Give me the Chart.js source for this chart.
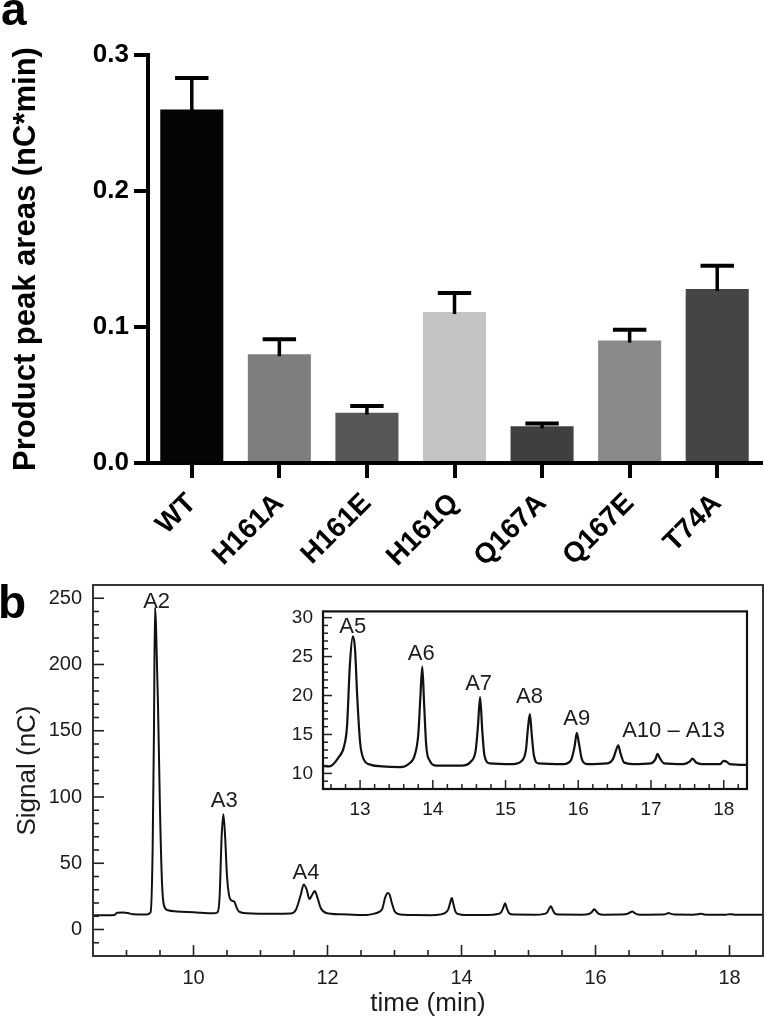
<!DOCTYPE html>
<html><head><meta charset="utf-8">
<script src="https://cdn.jsdelivr.net/npm/chart.js@4.4.0/dist/chart.umd.min.js"></script>
<style>
html,body{margin:0;padding:0;background:#fff;}
body{width:765px;height:1020px;position:relative;overflow:hidden;font-family:"Liberation Sans",Arial,sans-serif;}
.wrap{position:absolute;}
.panel{position:absolute;font-weight:bold;font-size:46px;line-height:46px;color:#000;font-family:"Liberation Sans",Arial,sans-serif;}
</style></head><body>
<div class="wrap" style="left:0;top:0;width:765px;height:580px"><canvas id="ca" width="765" height="580"></canvas></div>
<div class="wrap" style="left:0;top:560px;width:765px;height:460px"><canvas id="cb" width="765" height="460"></canvas></div>
<div class="wrap" style="left:270px;top:590px;width:490px;height:240px"><canvas id="cc" width="490" height="240"></canvas></div>
<div class="panel" style="left:1px;top:-14px">a</div>
<div class="panel" style="left:-2px;top:579px">b</div>
<script>
// ---------- Panel a data ----------
const categories = ['WT','H161A','H161E','H161Q','Q167A','Q167E','T74A'];
const peakAreas = [0.260, 0.080, 0.037, 0.111, 0.027, 0.090, 0.128];
const peakAreaErrors = [0.023, 0.011, 0.005, 0.014, 0.002, 0.008, 0.017];
const barColors = ['#050505','#7e7e7e','#575757','#c3c3c3','#3f3f3f','#8a8a8a','#454545'];
const yTicksA = [0, 0.1, 0.2, 0.3];

// ---------- Panel b data (chromatogram) ----------
const timeMin = [
 8.50, 8.70, 8.82, 8.86, 8.95, 9.02, 9.10, 9.30, 9.36, 9.39, 9.41, 9.425, 9.44, 9.47, 9.50, 9.53, 9.56, 9.62, 9.75, 10.00,
 10.30, 10.36, 10.39, 10.42, 10.445, 10.47, 10.50, 10.53, 10.56, 10.61, 10.64, 10.68, 10.80, 11.20, 11.45, 11.53, 11.60, 11.645, 11.69, 11.73,
 11.78, 11.81, 11.85, 11.90, 11.98, 12.20, 12.47, 12.58, 12.70, 12.78, 12.82, 12.86, 12.90, 12.93, 12.96, 13.00, 13.05, 13.15, 13.30, 13.55,
 13.68, 13.75, 13.80, 13.83, 13.855, 13.88, 13.91, 13.96, 14.05, 14.40, 14.52, 14.59, 14.62, 14.65, 14.68, 14.71, 14.78, 15.10, 15.22, 15.28,
 15.31, 15.335, 15.36, 15.39, 15.45, 15.80, 15.90, 15.95, 15.98, 16.01, 16.05, 16.12, 16.40, 16.48, 16.52, 16.55, 16.58, 16.63, 16.75, 17.00,
 17.06, 17.09, 17.12, 17.18, 17.45, 17.53, 17.57, 17.62, 17.70, 17.95, 18.00, 18.04, 18.08, 18.30, 18.50
];
const signalNC = [
 10.8, 10.8, 11.0, 12.6, 12.8, 12.4, 11.5, 11.3, 13.0, 60, 150, 243, 230, 170, 90, 35, 18, 14.5, 13.6, 13.0,
 12.2, 13.0, 25, 70, 87, 72, 40, 26, 22, 21, 17, 13.5, 12.2, 11.8, 12.0, 15, 26, 34, 30, 23,
 27, 29, 24, 16, 12.5, 11.5, 11.0, 10.9, 12.0, 13.5, 16, 24, 27.6, 26, 20, 14, 11.8, 11.1, 10.9, 10.8,
 11.3, 12.3, 15, 20, 23.7, 19, 13.5, 11.6, 11.0, 11.0, 11.5, 13, 16, 19.8, 15.5, 12.3, 11.3, 11.2, 11.6, 13,
 16, 17.6, 15, 12.3, 11.3, 11.2, 11.7, 13.5, 15.2, 13.8, 11.8, 11.2, 11.3, 11.9, 13.0, 13.6, 12.6, 11.4, 11.2, 11.3,
 11.8, 12.5, 12.0, 11.3, 11.2, 11.5, 11.9, 11.4, 11.2, 11.2, 11.6, 11.5, 11.2, 11.1, 11.1
];
const xTicksMain = [10, 12, 14, 16, 18];
const yTicksMain = [0, 50, 100, 150, 200, 250];
const xTicksInset = [13, 14, 15, 16, 17, 18];
const yTicksInset = [10, 15, 20, 25, 30];

const mainPeakNames = ['A2', 'A3', 'A4'];
const mainPeakTime = [9.45, 10.46, 11.68];
const mainPeakSignal = [247, 97, 43];
const insetPeakNames = ['A5', 'A6', 'A7', 'A8', 'A9', 'A10 \u2013 A13'];
const insetPeakTime = [12.9, 13.84, 14.63, 15.33, 15.98, 17.31];
const insetPeakSignal = [28.8, 25.4, 21.5, 19.8, 17.0, 15.4];

const FONT = '"Liberation Sans", Arial, Helvetica, sans-serif';
const TXT = '#1c1c1c';

// ---------- plugins ----------
const errorBarPlugin = {
  id: 'errbars',
  afterDatasetsDraw(chart) {
    const meta = chart.getDatasetMeta(0), ys = chart.scales.y, ctx = chart.ctx;
    ctx.save(); ctx.strokeStyle = '#000'; ctx.lineCap = 'butt';
    meta.data.forEach((bar, i) => {
      const top = ys.getPixelForValue(peakAreas[i]);
      const yc = ys.getPixelForValue(peakAreas[i] + peakAreaErrors[i]);
      ctx.lineWidth = 3.5;
      ctx.beginPath(); ctx.moveTo(bar.x, top + 2); ctx.lineTo(bar.x, yc); ctx.stroke();
      const hw = bar.width * 0.265;
      ctx.lineWidth = 4;
      ctx.beginPath(); ctx.moveTo(bar.x - hw, yc); ctx.lineTo(bar.x + hw, yc); ctx.stroke();
    });
    ctx.restore();
  }
};

function frameTicks(cfg) {
  return {
    id: 'frameTicks',
    beforeDatasetsDraw(chart) {
      if (!cfg.fill) return;
      const a = chart.chartArea, ctx = chart.ctx;
      ctx.save(); ctx.fillStyle = '#fff';
      ctx.fillRect(a.left, a.top, a.right - a.left, a.bottom - a.top);
      ctx.restore();
    },
    afterDraw(chart) {
      const a = chart.chartArea, ctx = chart.ctx, xs = chart.scales.x, ys = chart.scales.y;
      ctx.save();
      ctx.strokeStyle = cfg.color; ctx.lineWidth = cfg.tickWidth;
      const isMul = (v, s) => Math.abs(v / s - Math.round(v / s)) < 1e-6;
      let n0 = Math.ceil(xs.min / cfg.xMinor - 1e-9), n1 = Math.floor(xs.max / cfg.xMinor + 1e-9);
      for (let n = n0; n <= n1; n++) {
        const v = n * cfg.xMinor, px = xs.getPixelForValue(v);
        const len = isMul(v, cfg.xMajor) ? cfg.majorLen : cfg.minorLen;
        ctx.beginPath(); ctx.moveTo(px, a.bottom); ctx.lineTo(px, a.bottom - len); ctx.stroke();
      }
      n0 = Math.ceil(ys.min / cfg.yMinor - 1e-9); n1 = Math.floor(ys.max / cfg.yMinor + 1e-9);
      for (let n = n0; n <= n1; n++) {
        const v = n * cfg.yMinor, py = ys.getPixelForValue(v);
        const len = isMul(v, cfg.yMajor) ? cfg.majorLen : cfg.minorLen;
        ctx.beginPath(); ctx.moveTo(a.left, py); ctx.lineTo(a.left + len, py); ctx.stroke();
      }
      ctx.lineWidth = cfg.frameWidth; ctx.strokeStyle = cfg.frameColor;
      ctx.strokeRect(a.left, a.top, a.right - a.left, a.bottom - a.top);
      ctx.restore();
    }
  };
}

function peakLabels(names, times, sigs) {
  return {
    id: 'peakLabels',
    afterDatasetsDraw(chart) {
      const ctx = chart.ctx, xs = chart.scales.x, ys = chart.scales.y;
      ctx.save();
      ctx.fillStyle = TXT; ctx.font = '22px ' + FONT;
      ctx.textAlign = 'center'; ctx.textBaseline = 'middle';
      names.forEach((n, i) => ctx.fillText(n, xs.getPixelForValue(times[i]), ys.getPixelForValue(sigs[i])));
      ctx.restore();
    }
  };
}

// ---------- Panel a ----------
new Chart(document.getElementById('ca'), {
  type: 'bar',
  data: { labels: categories, datasets: [{ data: peakAreas, backgroundColor: barColors, borderWidth: 0, barPercentage: 0.72, categoryPercentage: 1 }] },
  options: {
    responsive: false, animation: false, devicePixelRatio: 1,
    layout: { padding: { left: 0, right: 4, top: 55, bottom: 0 } },
    plugins: { legend: { display: false }, tooltip: { enabled: false } },
    scales: {
      x: {
        offset: true,
        grid: { display: true, offset: false, drawOnChartArea: false, drawTicks: true, tickLength: 15, lineWidth: 4, color: '#000' },
        border: { display: true, width: 4, color: '#000' },
        ticks: { autoSkip: false, maxRotation: 45, minRotation: 45, padding: 9, color: '#000', font: { family: FONT, size: 28, weight: 'bold' } },
        afterFit(s) { s.height = 117; }
      },
      y: {
        min: 0, max: 0.3,
        afterBuildTicks(s) { s.ticks = yTicksA.map(v => ({ value: v })); },
        ticks: { padding: 5, color: '#000', font: { family: FONT, size: 26, weight: 'bold' }, callback: v => Number(v).toFixed(1) },
        grid: { drawOnChartArea: false, drawTicks: true, tickLength: 14, lineWidth: 4, color: '#000' },
        border: { display: true, width: 4, color: '#000' },
        title: { display: true, text: 'Product peak areas (nC*min)', color: '#000', font: { family: FONT, size: 31, weight: 'bold' }, padding: { top: 8, bottom: 0 } },
        afterFit(s) { s.width = 148; }
      }
    }
  },
  plugins: [errorBarPlugin]
});

// ---------- Panel b main ----------
const tracePts = timeMin.map((t, i) => ({ x: t, y: signalNC[i] }));
const lineDs = { data: tracePts, borderColor: '#111', borderWidth: 2, pointRadius: 0, fill: false, cubicInterpolationMode: 'monotone' };

new Chart(document.getElementById('cb'), {
  type: 'line',
  data: { datasets: [lineDs] },
  options: {
    responsive: false, animation: false, devicePixelRatio: 1,
    layout: { padding: { left: 0, right: 2, top: 25, bottom: 0 } },
    plugins: { legend: { display: false }, tooltip: { enabled: false } },
    scales: {
      x: {
        type: 'linear', min: 8.5, max: 18.5,
        afterBuildTicks(s) { s.ticks = xTicksMain.map(v => ({ value: v })); },
        grid: { display: false, drawTicks: false }, border: { display: false },
        ticks: { padding: 10, color: TXT, font: { family: FONT, size: 20 } },
        title: { display: true, text: 'time (min)', color: TXT, font: { family: FONT, size: 26 }, padding: { top: 0, bottom: 1 } },
        afterFit(s) { s.height = 64; }
      },
      y: {
        type: 'linear', min: -20, max: 260,
        afterBuildTicks(s) { s.ticks = yTicksMain.map(v => ({ value: v })); },
        grid: { display: false, drawTicks: false }, border: { display: false },
        ticks: { padding: 11, color: TXT, font: { family: FONT, size: 20 } },
        title: { display: true, text: 'Signal (nC)', color: TXT, font: { family: FONT, size: 26 }, padding: { top: 12, bottom: 0 } },
        afterFit(s) { s.width = 93; }
      }
    }
  },
  plugins: [frameTicks({ xMinor: 0.5, xMajor: 2, yMinor: 10, yMajor: 50, majorLen: 11, minorLen: 6, tickWidth: 1.6, color: '#222', frameWidth: 2, frameColor: '#333', fill: false }),
            peakLabels(mainPeakNames, mainPeakTime, mainPeakSignal)]
});

// ---------- Panel b inset ----------
new Chart(document.getElementById('cc'), {
  type: 'line',
  data: { datasets: [Object.assign({}, lineDs, { data: tracePts, borderWidth: 2.2 })] },
  options: {
    responsive: false, animation: false, devicePixelRatio: 1,
    layout: { padding: { left: 0, right: 13, top: 11, bottom: 0 } },
    plugins: { legend: { display: false }, tooltip: { enabled: false } },
    scales: {
      x: {
        type: 'linear', min: 12.49, max: 18.32,
        afterBuildTicks(s) { s.ticks = xTicksInset.map(v => ({ value: v })); },
        grid: { display: false, drawTicks: false }, border: { display: false },
        ticks: { padding: 9, color: TXT, font: { family: FONT, size: 19 } },
        afterFit(s) { s.height = 41; }
      },
      y: {
        type: 'linear', min: 8, max: 30.8,
        afterBuildTicks(s) { s.ticks = yTicksInset.map(v => ({ value: v })); },
        grid: { display: false, drawTicks: false }, border: { display: false },
        ticks: { padding: 10, color: TXT, font: { family: FONT, size: 19 } },
        afterFit(s) { s.width = 53; }
      }
    }
  },
  plugins: [frameTicks({ xMinor: 0.2, xMajor: 1, yMinor: 1, yMajor: 5, majorLen: 9, minorLen: 5, tickWidth: 1.5, color: '#222', frameWidth: 2.2, frameColor: '#111', fill: true }),
            peakLabels(insetPeakNames, insetPeakTime, insetPeakSignal)]
});
</script>
</body></html>
